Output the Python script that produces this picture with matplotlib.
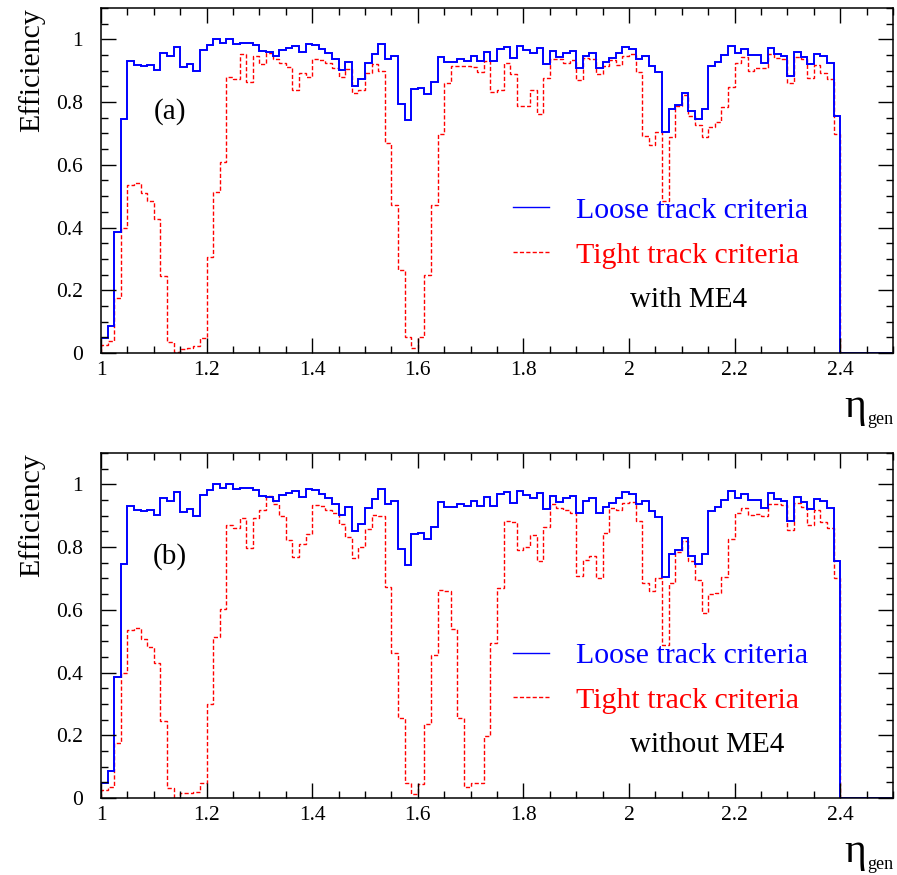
import numpy as np
import matplotlib
matplotlib.use("Agg")
import matplotlib.pyplot as plt
from matplotlib.lines import Line2D
from matplotlib.ticker import MultipleLocator

plt.rcParams['font.family'] = ['Liberation Serif', 'DejaVu Serif']

# eta bins: 120 bins of 0.0125 from 1.0 to 2.5, data up to 2.4
eta_lo, eta_hi, n_bins = 1.0, 2.5, 120

loose = [
    0.048, 0.087, 0.387, 0.745, 0.932, 0.919, 0.915, 0.917, 0.902, 0.958,
    0.947, 0.975, 0.913, 0.920, 0.900, 0.966, 0.982, 1.000, 0.989, 1.000,
    0.984, 0.989, 0.989, 0.982, 0.964, 0.961, 0.947, 0.966, 0.971, 0.979,
    0.961, 0.985, 0.982, 0.968, 0.958, 0.936, 0.902, 0.928, 0.851, 0.873,
    0.924, 0.953, 0.984, 0.937, 0.947, 0.794, 0.743, 0.841, 0.846, 0.826,
    0.863, 0.945, 0.929, 0.927, 0.937, 0.931, 0.947, 0.931, 0.961, 0.932,
    0.968, 0.975, 0.939, 0.979, 0.966, 0.958, 0.971, 0.920, 0.964, 0.943,
    0.958, 0.963, 0.908, 0.947, 0.955, 0.908, 0.929, 0.939, 0.958, 0.975,
    0.968, 0.936, 0.947, 0.915, 0.897, 0.706, 0.777, 0.791, 0.828, 0.772,
    0.745, 0.778, 0.916, 0.929, 0.950, 0.980, 0.955, 0.968, 0.950, 0.950,
    0.926, 0.971, 0.953, 0.948, 0.884, 0.959, 0.945, 0.921, 0.953, 0.947,
    0.926, 0.756,
]

tight_with_me4 = [
    0.027, 0.037, 0.175, 0.400, 0.536, 0.541, 0.510, 0.483, 0.428, 0.244,
    0.034, 0.002, 0.013, 0.016, 0.021, 0.048, 0.305, 0.513, 0.608, 0.879,
    0.873, 0.952, 0.865, 0.947, 0.920, 0.958, 0.936, 0.924, 0.911, 0.839,
    0.894, 0.879, 0.936, 0.934, 0.926, 0.908, 0.881, 0.904, 0.828, 0.839,
    0.892, 0.921, 0.900, 0.671, 0.472, 0.263, 0.051, 0.016, 0.051, 0.249,
    0.472, 0.699, 0.862, 0.915, 0.915, 0.915, 0.913, 0.897, 0.930, 0.833,
    0.837, 0.924, 0.889, 0.788, 0.788, 0.837, 0.761, 0.876, 0.936, 0.936,
    0.926, 0.934, 0.870, 0.939, 0.936, 0.890, 0.915, 0.934, 0.918, 0.947,
    0.953, 0.897, 0.692, 0.663, 0.706, 0.483, 0.688, 0.788, 0.823, 0.754,
    0.727, 0.690, 0.722, 0.738, 0.783, 0.849, 0.924, 0.943, 0.900, 0.910,
    0.908, 0.953, 0.939, 0.936, 0.860, 0.945, 0.936, 0.876, 0.918, 0.892,
    0.873, 0.699,
]

tight_without_me4 = [
    0.025, 0.036, 0.174, 0.400, 0.537, 0.542, 0.508, 0.482, 0.429, 0.246,
    0.033, 0.001, 0.015, 0.017, 0.020, 0.047, 0.301, 0.514, 0.604, 0.871,
    0.862, 0.893, 0.798, 0.894, 0.919, 0.962, 0.938, 0.898, 0.822, 0.769,
    0.809, 0.841, 0.933, 0.930, 0.919, 0.909, 0.875, 0.832, 0.766, 0.800,
    0.859, 0.901, 0.898, 0.673, 0.461, 0.254, 0.049, 0.013, 0.045, 0.235,
    0.455, 0.662, 0.660, 0.540, 0.254, 0.034, 0.049, 0.049, 0.199, 0.493,
    0.670, 0.883, 0.880, 0.790, 0.800, 0.838, 0.756, 0.864, 0.936, 0.926,
    0.919, 0.909, 0.707, 0.758, 0.771, 0.700, 0.845, 0.926, 0.917, 0.941,
    0.944, 0.883, 0.686, 0.660, 0.700, 0.487, 0.686, 0.785, 0.818, 0.756,
    0.696, 0.590, 0.652, 0.654, 0.705, 0.827, 0.909, 0.926, 0.901, 0.904,
    0.898, 0.938, 0.936, 0.933, 0.854, 0.941, 0.928, 0.869, 0.918, 0.880,
    0.862, 0.700,
]

panels = [
    ("(a)", "with ME4", tight_with_me4),
    ("(b)", "without ME4", tight_without_me4),
]

edges = np.linspace(eta_lo, eta_hi, n_bins + 1)


def pad(vals):
    return np.concatenate([vals, np.zeros(n_bins - len(vals))])


fig = plt.figure(figsize=(8.97, 8.75), dpi=100)
ax_top = fig.add_axes([0.1126, 0.5966, 0.8829, 0.3943])
ax_bot = fig.add_axes([0.1126, 0.0880, 0.8829, 0.3943])

red_dash = (0, (3, 1.6))

for ax, (tag, note, tight) in zip([ax_top, ax_bot], panels):
    ax.stairs(pad(tight), edges, color='#ff0000', lw=1.0, linestyle=red_dash)
    ax.stairs(pad(loose), edges, color='#0000ff', lw=1.4)

    ax.set_xlim(eta_lo, eta_hi)
    ax.set_ylim(0, 1.1)
    ax.xaxis.set_major_locator(MultipleLocator(0.2))
    ax.xaxis.set_minor_locator(MultipleLocator(0.05))
    ax.yaxis.set_major_locator(MultipleLocator(0.2))
    ax.yaxis.set_minor_locator(MultipleLocator(0.05))
    ax.set_xticks([1, 1.2, 1.4, 1.6, 1.8, 2.0, 2.2, 2.4])
    ax.set_xticklabels(["1", "1.2", "1.4", "1.6", "1.8", "2", "2.2", "2.4"])
    ax.set_yticks([0, 0.2, 0.4, 0.6, 0.8, 1.0])
    ax.set_yticklabels(["0", "0.2", "0.4", "0.6", "0.8", "1"])
    ax.tick_params(which='both', direction='in', top=True, right=True,
                   width=1.0, labelsize=15.5)
    ax.tick_params(which='major', length=10.5)
    ax.tick_params(which='minor', length=5.3)
    ax.tick_params(axis='y', pad=13)
    ax.tick_params(axis='x', pad=6)
    for sp in ax.spines.values():
        sp.set_linewidth(1.1)

    ax.set_ylabel("Efficiency", fontsize=21.5, loc='top', labelpad=8)

    ax.text(0.087, 0.699, tag, transform=ax.transAxes, fontsize=21,
            ha='center', va='center')
    ax.text(0.668, 0.154, note, transform=ax.transAxes, fontsize=21,
            ha='left', va='center')

    handles = [
        Line2D([], [], color='#0000ff', lw=1.0),
        Line2D([], [], color='#ff0000', lw=1.0, linestyle=red_dash),
    ]
    ax.legend(handles, ["Loose track criteria", "Tight track criteria"],
              loc='upper left', bbox_to_anchor=(0.52, 0.452), frameon=False,
              fontsize=21.5, labelcolor=['#0000ff', '#ff0000'],
              handlelength=1.2, handletextpad=0.9, labelspacing=0.6,
              borderpad=0, borderaxespad=0)

    ax.text(0.952, -0.1855, "η", transform=ax.transAxes, fontsize=30,
            ha='center', va='baseline')
    ax.text(0.967, -0.206, "gen", transform=ax.transAxes, fontsize=13,
            ha='left', va='baseline')

fig.savefig("out.png", dpi=100)
